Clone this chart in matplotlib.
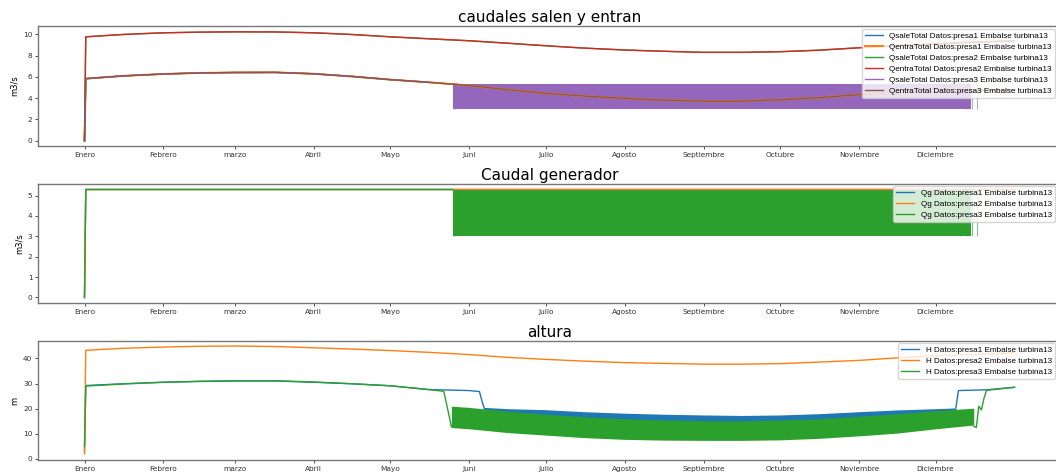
import matplotlib
matplotlib.use("Agg")
import matplotlib.pyplot as plt

# ---------------- data ----------------
MONTHS = ['Enero', 'Febrero', 'marzo', 'Abril', 'Mayo', 'Juni', 'Julio',
          'Agosto', 'Septiembre', 'Octubre', 'Noviembre', 'Diciembre']
MONTH_START_DAYS = [0, 31, 59, 90, 120, 151, 181, 212, 243, 273, 304, 334]

CURVE_DAYS = [0, 0.5, 15, 31, 45, 59, 75, 90, 105, 120, 135, 151, 166, 181,
              196, 212, 227, 243, 258, 273, 288, 304, 319, 334, 349, 365]
# caudales (m3/s)
Q_UPPER = [0, 9.78, 10.0, 10.16, 10.22, 10.25, 10.24, 10.16, 10.0, 9.78, 9.6,
           9.41, 9.18, 8.94, 8.72, 8.54, 8.42, 8.32, 8.32, 8.38, 8.52, 8.75,
           8.95, 9.12, 9.28, 9.4]
Q_LOWER = [0, 5.84, 6.1, 6.28, 6.38, 6.42, 6.43, 6.3, 6.05, 5.75, 5.5, 5.2,
           4.8, 4.46, 4.2, 3.99, 3.82, 3.72, 3.72, 3.85, 4.05, 4.33, 4.5, 4.62,
           4.72, 4.8]
# oscillating turbine flow band (presa3)
QBAND_DAYS = [144.5, 348]
QBAND_LOW = [3.0, 3.0]
QBAND_HIGH = [5.3, 5.3]
QBAND_EDGE_DAYS = [144.5, 145.5, 346.5, 348.5, 350.3]
QG_DAYS = [0, 0.5, 365]
QG_CONST = [0, 5.3, 5.3]

# alturas (m)
H_PRESA2 = [2, 43.2, 44.0, 44.5, 44.8, 44.9, 44.7, 44.2, 43.7, 43.1, 42.4,
            41.5, 40.4, 39.6, 38.9, 38.3, 38.0, 37.7, 37.7, 37.9, 38.5, 39.2,
            40.2, 41.0, 41.6, 42.2]
H1_PRE_DAYS = [0, 0.5, 15, 31, 45, 59, 75, 90, 105, 120, 135, 151, 155, 156, 157]
H1_PRE = [3, 29.2, 29.9, 30.5, 30.8, 31.0, 31.0, 30.5, 29.9, 29.1, 27.6, 27.2,
          26.8, 23.0, 19.8]
H1_BAND_DAYS = [157, 166, 181, 196, 212, 227, 243, 258, 273, 288, 304, 319, 334, 342]
H1_BAND_HIGH = [20.5, 20.0, 19.6, 18.8, 18.2, 17.8, 17.5, 17.3, 17.5, 18.0,
                18.8, 19.5, 20.0, 20.3]
H1_BAND_LOW = [16.0, 15.5, 15.0, 14.5, 14.0, 13.5, 13.2, 13.0, 13.2, 13.6,
               14.2, 15.0, 15.8, 16.5]
H1_POST_DAYS = [342, 343, 354, 365]
H1_POST = [20.3, 27.2, 27.5, 28.5]

H3_PRE_DAYS = [0, 0.5, 15, 31, 45, 59, 75, 90, 105, 120, 135, 141, 142.5, 144]
H3_PRE = [5, 29.0, 29.8, 30.5, 30.9, 31.1, 31.1, 30.6, 29.9, 29.1, 27.6, 26.9,
          20.0, 12.8]
H3_BAND_DAYS = [144, 151, 166, 181, 196, 212, 227, 243, 258, 273, 288, 304,
                319, 334, 349]
H3_BAND_HIGH = [21.0, 20.5, 19.0, 17.8, 16.8, 16.0, 15.5, 15.2, 15.2, 15.5,
                16.0, 17.0, 18.0, 19.2, 20.2]
H3_BAND_LOW = [12.5, 12.0, 10.5, 9.5, 8.5, 7.8, 7.5, 7.4, 7.4, 7.6, 8.2, 9.2,
               10.3, 12.0, 13.5]
H3_POST_DAYS = [349, 350, 351, 352, 353, 354, 365]
H3_POST = [13.0, 12.5, 21.0, 19.5, 24.0, 27.3, 28.5]

C = ['#1f77b4', '#ff7f0e', '#2ca02c', '#d62728', '#9467bd', '#8c564b']
LW = 1.0

# ---------------- figure ----------------
W, H = 1056, 475
fig = plt.figure(figsize=(W / 100, H / 100), dpi=100)
plt.rcParams['font.family'] = ['DejaVu Sans']


def ax_at(left, top, right, bottom):
    return fig.add_axes([left / W, 1 - bottom / H, (right - left) / W, (bottom - top) / H])


ax1 = ax_at(38, 26, 1061, 146)
ax2 = ax_at(38, 184, 1061, 303)
ax3 = ax_at(38, 341, 1061, 460)

# top plot
ax1.plot(CURVE_DAYS, Q_LOWER, color=C[0], lw=LW, label='QsaleTotal Datos:presa1 Embalse turbina13')
ax1.plot(CURVE_DAYS, Q_LOWER, color=C[1], lw=LW + 0.4, label='QentraTotal Datos:presa1 Embalse turbina13')
ax1.plot(CURVE_DAYS, Q_UPPER, color=C[2], lw=LW, label='QsaleTotal Datos:presa2 Embalse turbina13')
ax1.plot(CURVE_DAYS, Q_UPPER, color=C[3], lw=LW, label='QentraTotal Datos:presa2 Embalse turbina13')
pre = [(d, v) for d, v in zip(CURVE_DAYS, Q_LOWER) if d <= QBAND_DAYS[0]]
ax1.plot([p[0] for p in pre], [p[1] for p in pre], color=C[4], lw=LW,
         label='QsaleTotal Datos:presa3 Embalse turbina13')
ax1.fill_between(QBAND_DAYS, QBAND_LOW, QBAND_HIGH, color=C[4], lw=0)
ax1.vlines(QBAND_EDGE_DAYS, QBAND_LOW[0], QBAND_HIGH[0], color=C[4], lw=0.8, alpha=0.6)
ax1.plot(CURVE_DAYS, Q_LOWER, color=C[5], lw=LW, label='QentraTotal Datos:presa3 Embalse turbina13')
ax1.set_ylim(-0.5, 10.8)
ax1.set_yticks([0, 2, 4, 6, 8, 10])
ax1.set_ylabel('m3/s')
ax1.set_title('caudales salen y entran', fontsize=11, pad=3)

# generator plot
ax2.plot(QG_DAYS, QG_CONST, color=C[0], lw=LW, label='Qg Datos:presa1 Embalse turbina13')
ax2.plot(QG_DAYS, QG_CONST, color=C[1], lw=LW, label='Qg Datos:presa2 Embalse turbina13')
ax2.plot([QG_DAYS[0], QG_DAYS[1], QBAND_DAYS[0]], [QG_CONST[0], QG_CONST[1], QBAND_HIGH[0]],
         color=C[2], lw=LW, label='Qg Datos:presa3 Embalse turbina13')
ax2.fill_between(QBAND_DAYS, QBAND_LOW, QBAND_HIGH, color=C[2], lw=0)
ax2.vlines(QBAND_EDGE_DAYS, QBAND_LOW[0], QBAND_HIGH[0], color=C[2], lw=0.8, alpha=0.6)
ax2.set_ylim(-0.27, 5.57)
ax2.set_yticks([0, 1, 2, 3, 4, 5])
ax2.set_ylabel('m3/s')
ax2.set_title('Caudal generador', fontsize=11, pad=3)

# altura plot
ax3.plot(H1_PRE_DAYS, H1_PRE, color=C[0], lw=LW, label='H Datos:presa1 Embalse turbina13')
ax3.fill_between(H1_BAND_DAYS, H1_BAND_LOW, H1_BAND_HIGH, color=C[0], lw=0)
ax3.plot(H1_POST_DAYS, H1_POST, color=C[0], lw=LW)
ax3.plot(CURVE_DAYS, H_PRESA2, color=C[1], lw=LW, label='H Datos:presa2 Embalse turbina13')
ax3.plot(H3_PRE_DAYS, H3_PRE, color=C[2], lw=LW, label='H Datos:presa3 Embalse turbina13')
ax3.fill_between(H3_BAND_DAYS, H3_BAND_LOW, H3_BAND_HIGH, color=C[2], lw=0)
ax3.plot(H3_POST_DAYS, H3_POST, color=C[2], lw=LW)
ax3.set_ylim(-0.4, 46.9)
ax3.set_yticks([0, 10, 20, 30, 40])
ax3.set_ylabel('m')
ax3.set_title('altura', fontsize=11, pad=3)

legend_tops = [29, 186, 343]
for ax, ltop in zip((ax1, ax2, ax3), legend_tops):
    ax.set_xlim(-18.25, 383.25)
    ax.set_xticks(MONTH_START_DAYS)
    ax.set_xticklabels(MONTHS)
    ax.tick_params(labelsize=5.3, length=2.5, width=0.6, pad=1.5, colors='#333333')
    ax.yaxis.label.set_size(6)
    ax.yaxis.labelpad = 3
    for s in ax.spines.values():
        s.set_color('#777777')
        s.set_linewidth(1.0)
    ax.legend(loc='upper right', bbox_to_anchor=(1055 / W, 1 - ltop / H),
              bbox_transform=fig.transFigure, borderaxespad=0,
              prop={'family': 'Liberation Sans', 'size': 5.85},
              labelspacing=0.4, borderpad=0.4, handlelength=2.2, framealpha=0.8)

fig.savefig('out.png', dpi=100)
